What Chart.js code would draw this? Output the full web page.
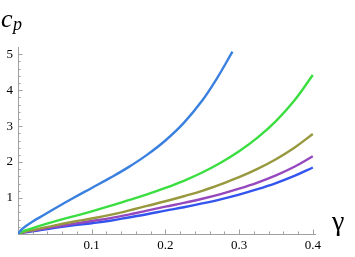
<!DOCTYPE html>
<html>
<head>
<meta charset="utf-8">
<script src="https://cdn.jsdelivr.net/npm/chart.js@4"></script>
<style>
  html, body { margin: 0; padding: 0; background: #fff; }
</style>
</head>
<body>
<canvas id="cpChart" width="355" height="257"></canvas>
<script>
const gammaA = [0, 0.005, 0.01, 0.02, 0.03, 0.05, 0.075, 0.1, 0.125, 0.15, 0.175, 0.2, 0.225, 0.25, 0.27, 0.291]
const gammaB = [0, 0.005, 0.01, 0.025, 0.05, 0.075, 0.1, 0.125, 0.15, 0.175, 0.2, 0.225, 0.25, 0.275, 0.3, 0.325, 0.35, 0.375, 0.4]

// cp values per curve
const cpSkyBlue = [0, 0.13, 0.21, 0.35, 0.47, 0.71, 1.0, 1.28, 1.56, 1.86, 2.2, 2.6, 3.09, 3.71, 4.33, 5.07]
const cpGreen   = [0, 0.06, 0.1, 0.2, 0.35, 0.49, 0.63, 0.78, 0.94, 1.1, 1.28, 1.48, 1.71, 1.98, 2.3, 2.68, 3.14, 3.71, 4.42]
const cpOlive   = [0, 0.04, 0.07, 0.13, 0.24, 0.34, 0.43, 0.53, 0.65, 0.78, 0.91, 1.05, 1.2, 1.38, 1.58, 1.81, 2.08, 2.4, 2.78]
const cpPurple  = [0, 0.035, 0.06, 0.11, 0.2, 0.28, 0.36, 0.44, 0.54, 0.65, 0.76, 0.865, 0.98, 1.11, 1.26, 1.43, 1.63, 1.87, 2.16]
const cpBlue    = [0, 0.03, 0.05, 0.09, 0.17, 0.24, 0.3, 0.37, 0.46, 0.55, 0.65, 0.745, 0.85, 0.965, 1.095, 1.245, 1.415, 1.615, 1.85]

const xTicks = [0.1, 0.2, 0.3, 0.4]
const yTicks = [1, 2, 3, 4, 5]

const serif = 'Liberation Serif, Times New Roman, DejaVu Serif, serif'

function pts(xs, ys) {
    return xs.map((x, i) => ({ x: x, y: ys[i] }))
}

function line(label, xs, ys, color) {
    return {
        label: label,
        data: pts(xs, ys),
        borderColor: color,
        borderWidth: 2.4,
        pointRadius: 0,
        fill: false,
        tension: 0.4
    }
}

// Mathematica style ticks: inward, major every label, minor in between
const tickMarks = {
    id: 'tickMarks',
    afterDraw(chart) {
        const ctx = chart.ctx
        const xs = chart.scales.x, ys = chart.scales.y
        const area = chart.chartArea
        ctx.save()
        ctx.strokeStyle = '#a0a0a0'
        ctx.lineWidth = 1
        for (let i = 1; i <= 20; i++) {
            const px = Math.round(xs.getPixelForValue(i * 0.02)) + 0.5
            const len = (i % 5 == 0) ? 4.5 : 2.5
            ctx.beginPath()
            ctx.moveTo(px, area.bottom)
            ctx.lineTo(px, area.bottom - len)
            ctx.stroke()
        }
        for (let i = 1; i <= 25; i++) {
            const py = Math.round(ys.getPixelForValue(i * 0.2)) + 0.5
            const len = (i % 5 == 0) ? 4.5 : 2.5
            ctx.beginPath()
            ctx.moveTo(area.left, py)
            ctx.lineTo(area.left + len, py)
            ctx.stroke()
        }
        // axis labels
        ctx.fillStyle = '#000'
        ctx.textBaseline = 'alphabetic'
        ctx.font = 'italic 26px ' + serif
        ctx.fillText('c', 1, 27)
        ctx.font = 'italic 18px ' + serif
        ctx.fillText('p', 13, 30)
        ctx.font = '28px ' + serif
        ctx.fillText('γ', 332, 230)
        ctx.restore()
    }
}

const config = {
    type: 'line',
    data: {
        datasets: [
            line('1', gammaA, cpSkyBlue, 'rgb(58, 128, 222)'),
            line('2', gammaB, cpGreen, 'rgb(58, 222, 64)'),
            line('3', gammaB, cpOlive, 'rgb(152, 152, 62)'),
            line('4', gammaB, cpPurple, 'rgb(150, 72, 190)'),
            line('5', gammaB, cpBlue, 'rgb(52, 84, 238)')
        ]
    },
    options: {
        responsive: false,
        animation: false,
        layout: { padding: { top: 47, right: 40, left: 0, bottom: 0 } },
        plugins: { legend: { display: false }, tooltip: { enabled: false } },
        scales: {
            x: {
                type: 'linear',
                min: 0,
                max: 0.403,
                afterFit(scale) { scale.height = 23 },
                afterBuildTicks(scale) { scale.ticks = xTicks.map(v => ({ value: v })) },
                grid: { display: false, drawTicks: false },
                border: { display: true, color: '#a0a0a0', width: 1 },
                ticks: {
                    padding: 4,
                    color: '#000',
                    font: { family: serif, size: 13 },
                    maxRotation: 0,
                    callback: v => String(v)
                }
            },
            y: {
                type: 'linear',
                min: 0,
                max: 5.2,
                afterFit(scale) { scale.width = 18 },
                afterBuildTicks(scale) { scale.ticks = yTicks.map(v => ({ value: v })) },
                grid: { display: false, drawTicks: false },
                border: { display: true, color: '#a0a0a0', width: 1 },
                ticks: {
                    padding: 5,
                    color: '#000',
                    font: { family: serif, size: 13 },
                    callback: v => String(v)
                }
            }
        }
    },
    plugins: [tickMarks]
}

const chart = new Chart(document.getElementById('cpChart'), config)
</script>
</body>
</html>
